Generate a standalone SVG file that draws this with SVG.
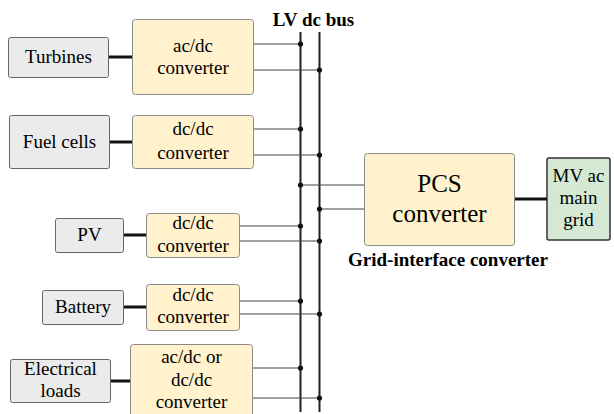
<svg xmlns="http://www.w3.org/2000/svg" width="614" height="414" viewBox="0 0 614 414">
<style>
.src{fill:#ebebeb;stroke:#666;stroke-width:1}
.cv{fill:#fff2cc;stroke:#8a8a8a;stroke-width:1}
.grid{fill:#d5e8d4;stroke:#333;stroke-width:1.5}
.thick{stroke:#111;stroke-width:3}
.thin{stroke:#444;stroke-width:1.2;fill:none}
.bus{stroke:#222;stroke-width:2}
.dot{fill:#111}
</style>
<rect width="614" height="414" fill="#fff"/>
<g id="lvbus"><text x="313.5" y="26" font-size="19" font-family="Liberation Serif, Tinos, DejaVu Serif, serif" font-weight="bold" text-anchor="middle">LV dc bus</text><line class="bus" x1="300.5" y1="32" x2="300.5" y2="412"/><line class="bus" x1="319.5" y1="32" x2="319.5" y2="412"/></g>
<g id="turbines"><rect class="src" x="8.5" y="37.5" width="100" height="40" rx="2"/><text x="58.5" y="63" font-size="19" font-family="Liberation Serif, Tinos, DejaVu Serif, serif" font-weight="normal" text-anchor="middle">Turbines</text></g>
<g id="conv-turbines"><rect class="cv" x="132.5" y="19.5" width="121" height="75" rx="3"/><text x="193" y="52" font-size="19" font-family="Liberation Serif, Tinos, DejaVu Serif, serif" font-weight="normal" text-anchor="middle">ac/dc</text><text x="193" y="74" font-size="19" font-family="Liberation Serif, Tinos, DejaVu Serif, serif" font-weight="normal" text-anchor="middle">converter</text></g>
<g id="fuelcells"><rect class="src" x="9.5" y="115.5" width="100" height="53" rx="2"/><text x="59.5" y="148" font-size="19" font-family="Liberation Serif, Tinos, DejaVu Serif, serif" font-weight="normal" text-anchor="middle">Fuel cells</text></g>
<g id="conv-fuelcells"><rect class="cv" x="132.5" y="115.5" width="121" height="53" rx="3"/><text x="193" y="135" font-size="19" font-family="Liberation Serif, Tinos, DejaVu Serif, serif" font-weight="normal" text-anchor="middle">dc/dc</text><text x="193" y="159" font-size="19" font-family="Liberation Serif, Tinos, DejaVu Serif, serif" font-weight="normal" text-anchor="middle">converter</text></g>
<g id="pv"><rect class="src" x="55.5" y="218.5" width="68" height="34" rx="2"/><text x="89.5" y="241" font-size="19" font-family="Liberation Serif, Tinos, DejaVu Serif, serif" font-weight="normal" text-anchor="middle">PV</text></g>
<g id="conv-pv"><rect class="cv" x="146.5" y="213.5" width="93" height="44" rx="3"/><text x="193" y="229" font-size="19" font-family="Liberation Serif, Tinos, DejaVu Serif, serif" font-weight="normal" text-anchor="middle">dc/dc</text><text x="193" y="252" font-size="19" font-family="Liberation Serif, Tinos, DejaVu Serif, serif" font-weight="normal" text-anchor="middle">converter</text></g>
<g id="battery"><rect class="src" x="42.5" y="290.5" width="81" height="34" rx="2"/><text x="83" y="313" font-size="19" font-family="Liberation Serif, Tinos, DejaVu Serif, serif" font-weight="normal" text-anchor="middle">Battery</text></g>
<g id="conv-battery"><rect class="cv" x="146.5" y="284.5" width="93" height="46" rx="3"/><text x="193" y="301" font-size="19" font-family="Liberation Serif, Tinos, DejaVu Serif, serif" font-weight="normal" text-anchor="middle">dc/dc</text><text x="193" y="323" font-size="19" font-family="Liberation Serif, Tinos, DejaVu Serif, serif" font-weight="normal" text-anchor="middle">converter</text></g>
<g id="loads"><rect class="src" x="10.5" y="359.5" width="100" height="43" rx="2"/><text x="60.5" y="375" font-size="19" font-family="Liberation Serif, Tinos, DejaVu Serif, serif" font-weight="normal" text-anchor="middle">Electrical</text><text x="60.5" y="397" font-size="19" font-family="Liberation Serif, Tinos, DejaVu Serif, serif" font-weight="normal" text-anchor="middle">loads</text></g>
<g id="conv-loads"><rect class="cv" x="130.5" y="344.5" width="122" height="80" rx="3"/><text x="191.5" y="363" font-size="19" font-family="Liberation Serif, Tinos, DejaVu Serif, serif" font-weight="normal" text-anchor="middle">ac/dc or</text><text x="191.5" y="386" font-size="19" font-family="Liberation Serif, Tinos, DejaVu Serif, serif" font-weight="normal" text-anchor="middle">dc/dc</text><text x="191.5" y="408" font-size="19" font-family="Liberation Serif, Tinos, DejaVu Serif, serif" font-weight="normal" text-anchor="middle">converter</text></g>
<g id="pcs"><rect class="cv" x="364.5" y="153.5" width="150" height="92" rx="3"/><text x="439.5" y="192" font-size="25" font-family="Liberation Serif, Tinos, DejaVu Serif, serif" font-weight="normal" text-anchor="middle">PCS</text><text x="439.5" y="222" font-size="25" font-family="Liberation Serif, Tinos, DejaVu Serif, serif" font-weight="normal" text-anchor="middle">converter</text><text x="448" y="266" font-size="19" font-family="Liberation Serif, Tinos, DejaVu Serif, serif" font-weight="bold" text-anchor="middle">Grid-interface converter</text></g>
<g id="mvgrid"><rect class="grid" x="547" y="158" width="63" height="82" rx="2"/><text x="578.5" y="182" font-size="19" font-family="Liberation Serif, Tinos, DejaVu Serif, serif" font-weight="normal" text-anchor="middle">MV ac</text><text x="578.5" y="204" font-size="19" font-family="Liberation Serif, Tinos, DejaVu Serif, serif" font-weight="normal" text-anchor="middle">main</text><text x="578.5" y="226" font-size="19" font-family="Liberation Serif, Tinos, DejaVu Serif, serif" font-weight="normal" text-anchor="middle">grid</text></g>
<g id="connectors">
<line class="thick" x1="109" y1="57" x2="132" y2="57"/>
<line class="thick" x1="110" y1="142" x2="132" y2="142"/>
<line class="thick" x1="124" y1="235" x2="146" y2="235"/>
<line class="thick" x1="124" y1="307" x2="146" y2="307"/>
<line class="thick" x1="111" y1="381" x2="130" y2="381"/>
<line class="thick" x1="515" y1="199" x2="547" y2="199"/>
<path class="thin" d="M254 44H300.5M254 70H319.5M254 129H300.5M254 155H319.5M240 226H300.5M240 241H319.5M240 301H300.5M240 314H319.5M253 368H300.5M253 398H319.5M300.5 185H364M319.5 209H364"/>
<g class="dot">
<circle cx="300.5" cy="44" r="2.6"/><circle cx="319.5" cy="70" r="2.6"/>
<circle cx="300.5" cy="129" r="2.6"/><circle cx="319.5" cy="155" r="2.6"/>
<circle cx="300.5" cy="185" r="2.6"/><circle cx="319.5" cy="209" r="2.6"/>
<circle cx="300.5" cy="226" r="2.6"/><circle cx="319.5" cy="241" r="2.6"/>
<circle cx="300.5" cy="301" r="2.6"/><circle cx="319.5" cy="314" r="2.6"/>
<circle cx="300.5" cy="368" r="2.6"/><circle cx="319.5" cy="398" r="2.6"/>
</g>
</g>
</svg>
